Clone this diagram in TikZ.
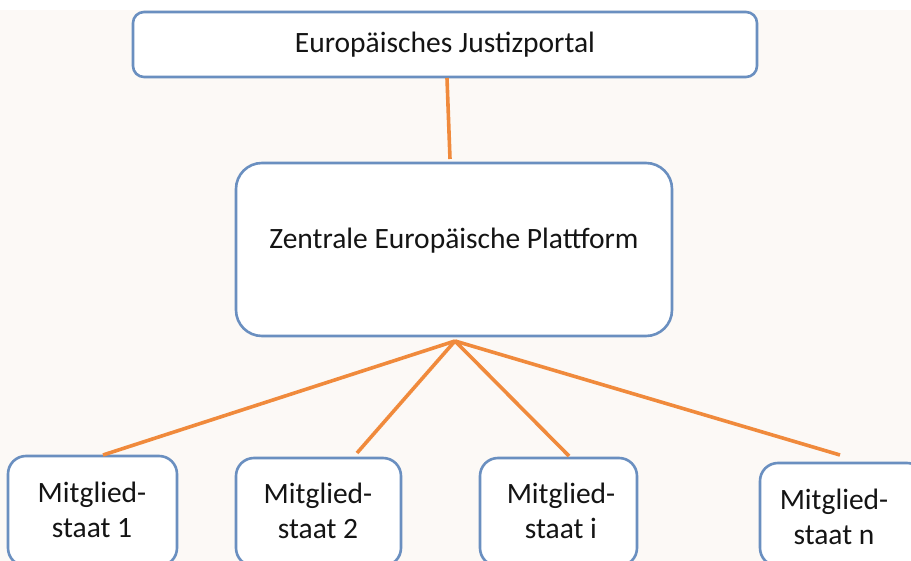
\documentclass[tikz,border=0pt]{standalone}
\usepackage{fontspec}
\setmainfont{Carlito}
\definecolor{bg}{HTML}{FCF9F6}
\definecolor{boxblue}{HTML}{6A8FC0}
\definecolor{conorange}{HTML}{F08A3C}
\begin{document}
\begin{tikzpicture}[x=1pt,y=-1pt,
  box/.style={draw=boxblue,line width=2.6pt,fill=white},
  con/.style={draw=conorange,line width=3.6pt},
  lbl/.style={font=\fontsize{29.5}{35}\selectfont,align=center,text=black!92}]
\useasboundingbox (0,0) rectangle (911,561);
\fill[bg] (0,10) rectangle (911,561);
\fill[white] (0,0) rectangle (911,10);
% boxes
\draw[box,rounded corners=11pt] (133,12) rectangle (757,77);
\node[lbl] (top) at (445,45) {Europäisches Justizportal};
\draw[box,rounded corners=26pt] (236,163) rectangle (672,336);
\node[lbl] (mid) at (454,241) {Zentrale Europäische Plattform};
\draw[box,rounded corners=18pt] (8,456) rectangle (177,566);
\draw[box,rounded corners=18pt] (236,458) rectangle (401,566);
\draw[box,rounded corners=18pt] (480,458) rectangle (637,566);
\draw[box,rounded corners=18pt] (760,463) rectangle (925,566);
\node[lbl] (m1) at (92,510) {Mitglied-\\staat 1};
\node[lbl] (m2) at (318,511) {Mitglied-\\staat 2};
\node[lbl] (mi) at (561,511) {Mitglied-\\staat i};
\node[lbl] (mn) at (834,517) {Mitglied-\\staat n};
% connectors
\coordinate (topb) at (447,78);
\coordinate (midt) at (450,159);
\coordinate (hub) at (455,341);
\coordinate (e1) at (103,455);
\coordinate (e2) at (357,453);
\coordinate (e3) at (569,456);
\coordinate (e4) at (840,455);
\draw[con] (topb) -- (midt);
\draw[con] (hub) -- (e1);
\draw[con] (hub) -- (e2);
\draw[con] (hub) -- (e3);
\draw[con] (hub) -- (e4);
\end{tikzpicture}
\end{document}
